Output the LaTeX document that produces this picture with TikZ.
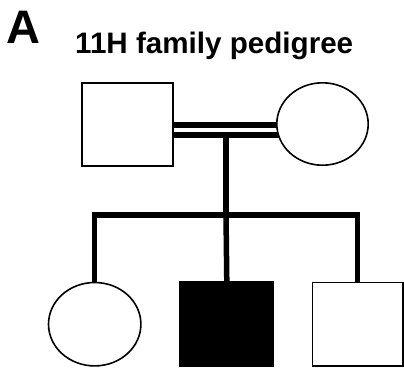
\documentclass[tikz,border=0pt]{standalone}
\usepackage{fontspec}
\setmainfont{Liberation Sans}
\usetikzlibrary{shapes.geometric}
\pgfdeclarelayer{background}
\pgfsetlayers{background,main}
\tikzset{
  person/.style={draw=black, line width=1.6pt, fill=white, inner sep=0pt},
  male/.style={person, rectangle},
  female/.style={person, ellipse},
  affected/.style={fill=black},
  kinline/.style={line width=5.5pt, line cap=butt, line join=miter},
  marriage/.style={line width=6pt, line cap=butt},
}
\begin{document}
\begin{tikzpicture}[x=1pt, y=-1pt]
  \useasboundingbox (0,0) rectangle (404,370);

  % panel letter and title
  \node[anchor=base west, inner sep=0pt, font=\bfseries\fontsize{47}{47}\selectfont] (panel) at (6.5,43.3) {A};
  \node[anchor=base west, inner sep=0pt, font=\bfseries\fontsize{29.6}{29.6}\selectfont] (title) at (75,53) {11H family pedigree};

  % parents
  \node[male, minimum width=91.4pt, minimum height=83.4pt] (father) at (127.5,124.5) {};
  \node[female, minimum width=91.4pt, minimum height=82.4pt] (mother) at (322.5,124) {};

  % children
  \node[female, minimum width=92.4pt, minimum height=83.4pt] (c1) at (94.7,324.2) {};
  \node[male, affected, minimum width=93.4pt, minimum height=84.4pt] (c2) at (226.8,324.3) {};
  \node[male, minimum width=90.4pt, minimum height=83.4pt] (c3) at (357.6,324.2) {};

  % connecting lines
  \coordinate (mtop) at (226,125);
  \coordinate (mbot) at (226,135);
  \coordinate (sibL) at (c1.north |- 0,215);
  \coordinate (sibR) at (c3.north |- 0,215);
  \coordinate (sibM) at (mbot |- 0,215);
  \begin{pgfonlayer}{background}
    \fill[white] (0,0) rectangle (404,370);
    % consanguineous (double) marriage line
    \draw[marriage] (father.east |- mtop) -- (mother.center |- mtop);
    \draw[marriage] (father.east |- mbot) -- (mother.center |- mbot);
    % line of descent and sibship line
    \draw[kinline] (mbot) -- (sibM);
    \draw[kinline] (c1.north) -- (sibL) -- (sibR) -- (c3.north);
    \draw[kinline] (sibM) -- (c2.north);
  \end{pgfonlayer}
\end{tikzpicture}
\end{document}
